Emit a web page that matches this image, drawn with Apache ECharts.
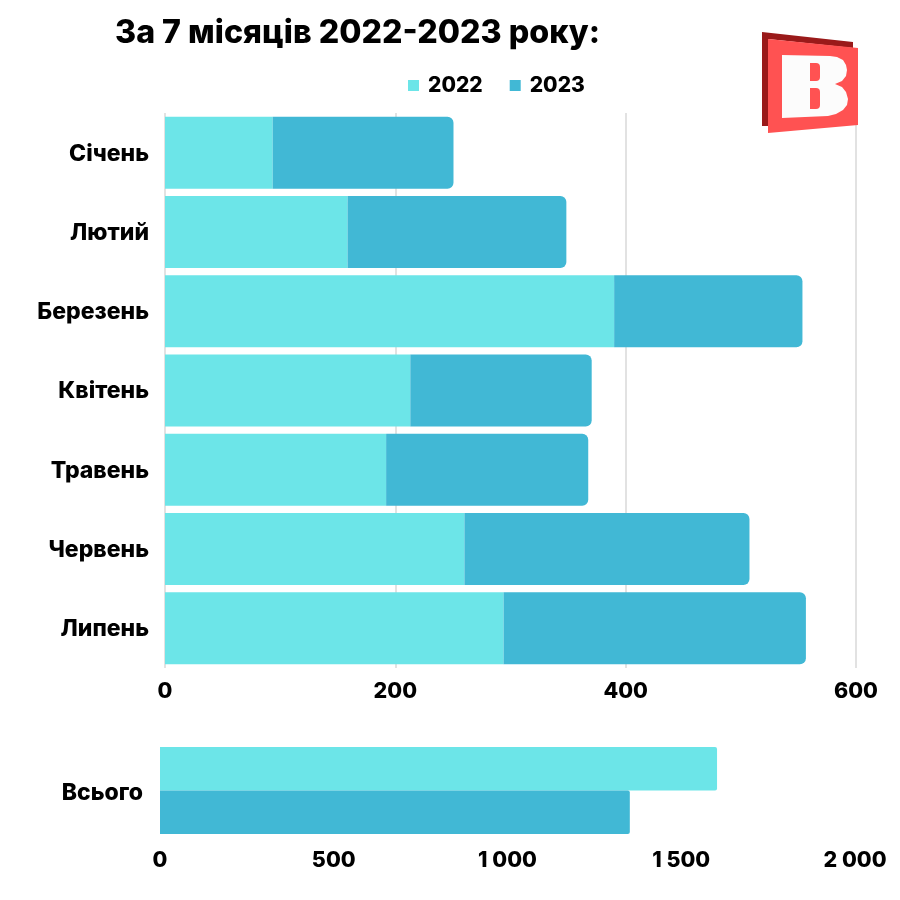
<!DOCTYPE html>
<html>
<head>
<meta charset="utf-8">
<style>html,body{margin:0;padding:0;background:#fff}#chart{width:900px;height:900px}</style>
<script src="https://cdn.jsdelivr.net/npm/echarts@6/dist/echarts.min.js"></script>
</head>
<body>
<div id="chart"></div>
<script>
// values
var months = ['Січень', 'Лютий', 'Березень', 'Квітень', 'Травень', 'Червень', 'Липень'];
var values2022 = [93.5, 158.5, 390, 213, 192, 260, 294];
var values2023 = [157, 190, 163.5, 157.5, 175.5, 247.5, 262.5];
var totalLabel = ['Всього'];
var total2022 = [1603];
var total2023 = [1352];

var FONT = 'Inter';
var COLOR_2022 = '#6ce5e8';
var COLOR_2023 = '#41b8d5';

function axisText(size) {
    return { fontFamily: FONT, fontWeight: 800, fontSize: size, color: '#000' };
}

// category label nudged down a little, the axis itself has no offset for this
function shiftedLabel(margin, shift) {
    return {
        margin: margin,
        formatter: '{v|{value}}',
        rich: { v: Object.assign(axisText(23), { padding: [shift, 0, 0, 0] }) }
    };
}

var chart = echarts.init(document.getElementById('chart'), null, { renderer: 'canvas' });

var option = {
    animation: false,
    backgroundColor: '#fff',
    title: {
        text: 'За 7 місяців 2022-2023 року:',
        left: 110,
        top: 12,
        textStyle: { fontFamily: FONT, fontWeight: 800, fontSize: 32.2, color: '#000' }
    },
    legend: {
        data: ['2022', '2023'],
        left: 403,
        top: 70,
        icon: 'rect',
        itemWidth: 11,
        itemHeight: 11,
        itemGap: 27,
        textStyle: Object.assign(axisText(21), { padding: [0, 0, 0, 4] })
    },
    grid: [
        { left: 165, width: 691, top: 113, height: 555 },
        { left: 160, width: 695, top: 747, height: 87 }
    ],
    xAxis: [{
        type: 'value',
        gridIndex: 0,
        min: 0,
        max: 600,
        interval: 200,
        axisLine: { show: false },
        axisTick: { show: false },
        axisLabel: Object.assign(axisText(21.5), { margin: 13 }),
        splitLine: { show: true, lineStyle: { color: '#d9d9d9', width: 1.5 } }
    }, {
        type: 'value',
        gridIndex: 1,
        min: 0,
        max: 2000,
        interval: 500,
        axisLine: { show: false },
        axisTick: { show: false },
        axisLabel: Object.assign(axisText(21.5), {
            margin: 16,
            formatter: function (v) {
                return String(v).replace(/\B(?=(\d{3})+$)/g, ' ');
            }
        }),
        splitLine: { show: false }
    }],
    yAxis: [{
        type: 'category',
        gridIndex: 0,
        data: months,
        inverse: true,
        axisLine: { show: false },
        axisTick: { show: false },
        axisLabel: shiftedLabel(16, 2)
    }, {
        type: 'category',
        gridIndex: 1,
        data: totalLabel,
        axisLine: { show: false },
        axisTick: { show: false },
        axisLabel: shiftedLabel(17, 6)
    }],
    series: [{
        name: '2022',
        type: 'bar',
        stack: 'months',
        xAxisIndex: 0,
        yAxisIndex: 0,
        barWidth: 72,
        data: values2022,
        itemStyle: { color: COLOR_2022 }
    }, {
        name: '2023',
        type: 'bar',
        stack: 'months',
        xAxisIndex: 0,
        yAxisIndex: 0,
        barWidth: 72,
        data: values2023,
        itemStyle: { color: COLOR_2023, borderRadius: [0, 6, 6, 0] }
    }, {
        name: '2022',
        type: 'bar',
        xAxisIndex: 1,
        yAxisIndex: 1,
        barGap: 0,
        barCategoryGap: 0,
        data: total2022,
        itemStyle: { color: COLOR_2022, borderRadius: [0, 2, 2, 0] }
    }, {
        name: '2023',
        type: 'bar',
        xAxisIndex: 1,
        yAxisIndex: 1,
        barGap: 0,
        barCategoryGap: 0,
        data: total2023,
        itemStyle: { color: COLOR_2023, borderRadius: [0, 2, 2, 0] }
    }],
    // logo
    graphic: [
        { type: 'polygon', z: 100, shape: { points: [[762, 32], [853, 42], [853, 48], [768, 39], [768, 126], [762, 126]] }, style: { fill: '#9a1a1a' } },
        { type: 'polygon', z: 101, shape: { points: [[768, 39], [858, 48], [858, 125], [768, 133]] }, style: { fill: '#ff5252' } },
        { type: 'polygon', z: 102, shape: { points: [[782, 55], [830, 56], [837, 57], [843, 60], [846, 65], [847, 70], [846, 76], [842, 81], [835, 84], [842, 87], [846, 92], [848, 99], [847, 105], [843, 110], [836, 114], [828, 116], [782, 118]] }, style: { fill: '#fcfcfc' } },
        { type: 'rect', z: 103, shape: { x: 810, y: 63, width: 10, height: 18, r: [0, 4, 4, 0] }, style: { fill: '#ff5252' } },
        { type: 'rect', z: 103, shape: { x: 810, y: 88, width: 10, height: 21, r: [0, 4, 4, 0] }, style: { fill: '#ff5252' } }
    ]
};
chart.setOption(option);
</script>
</body>
</html>
